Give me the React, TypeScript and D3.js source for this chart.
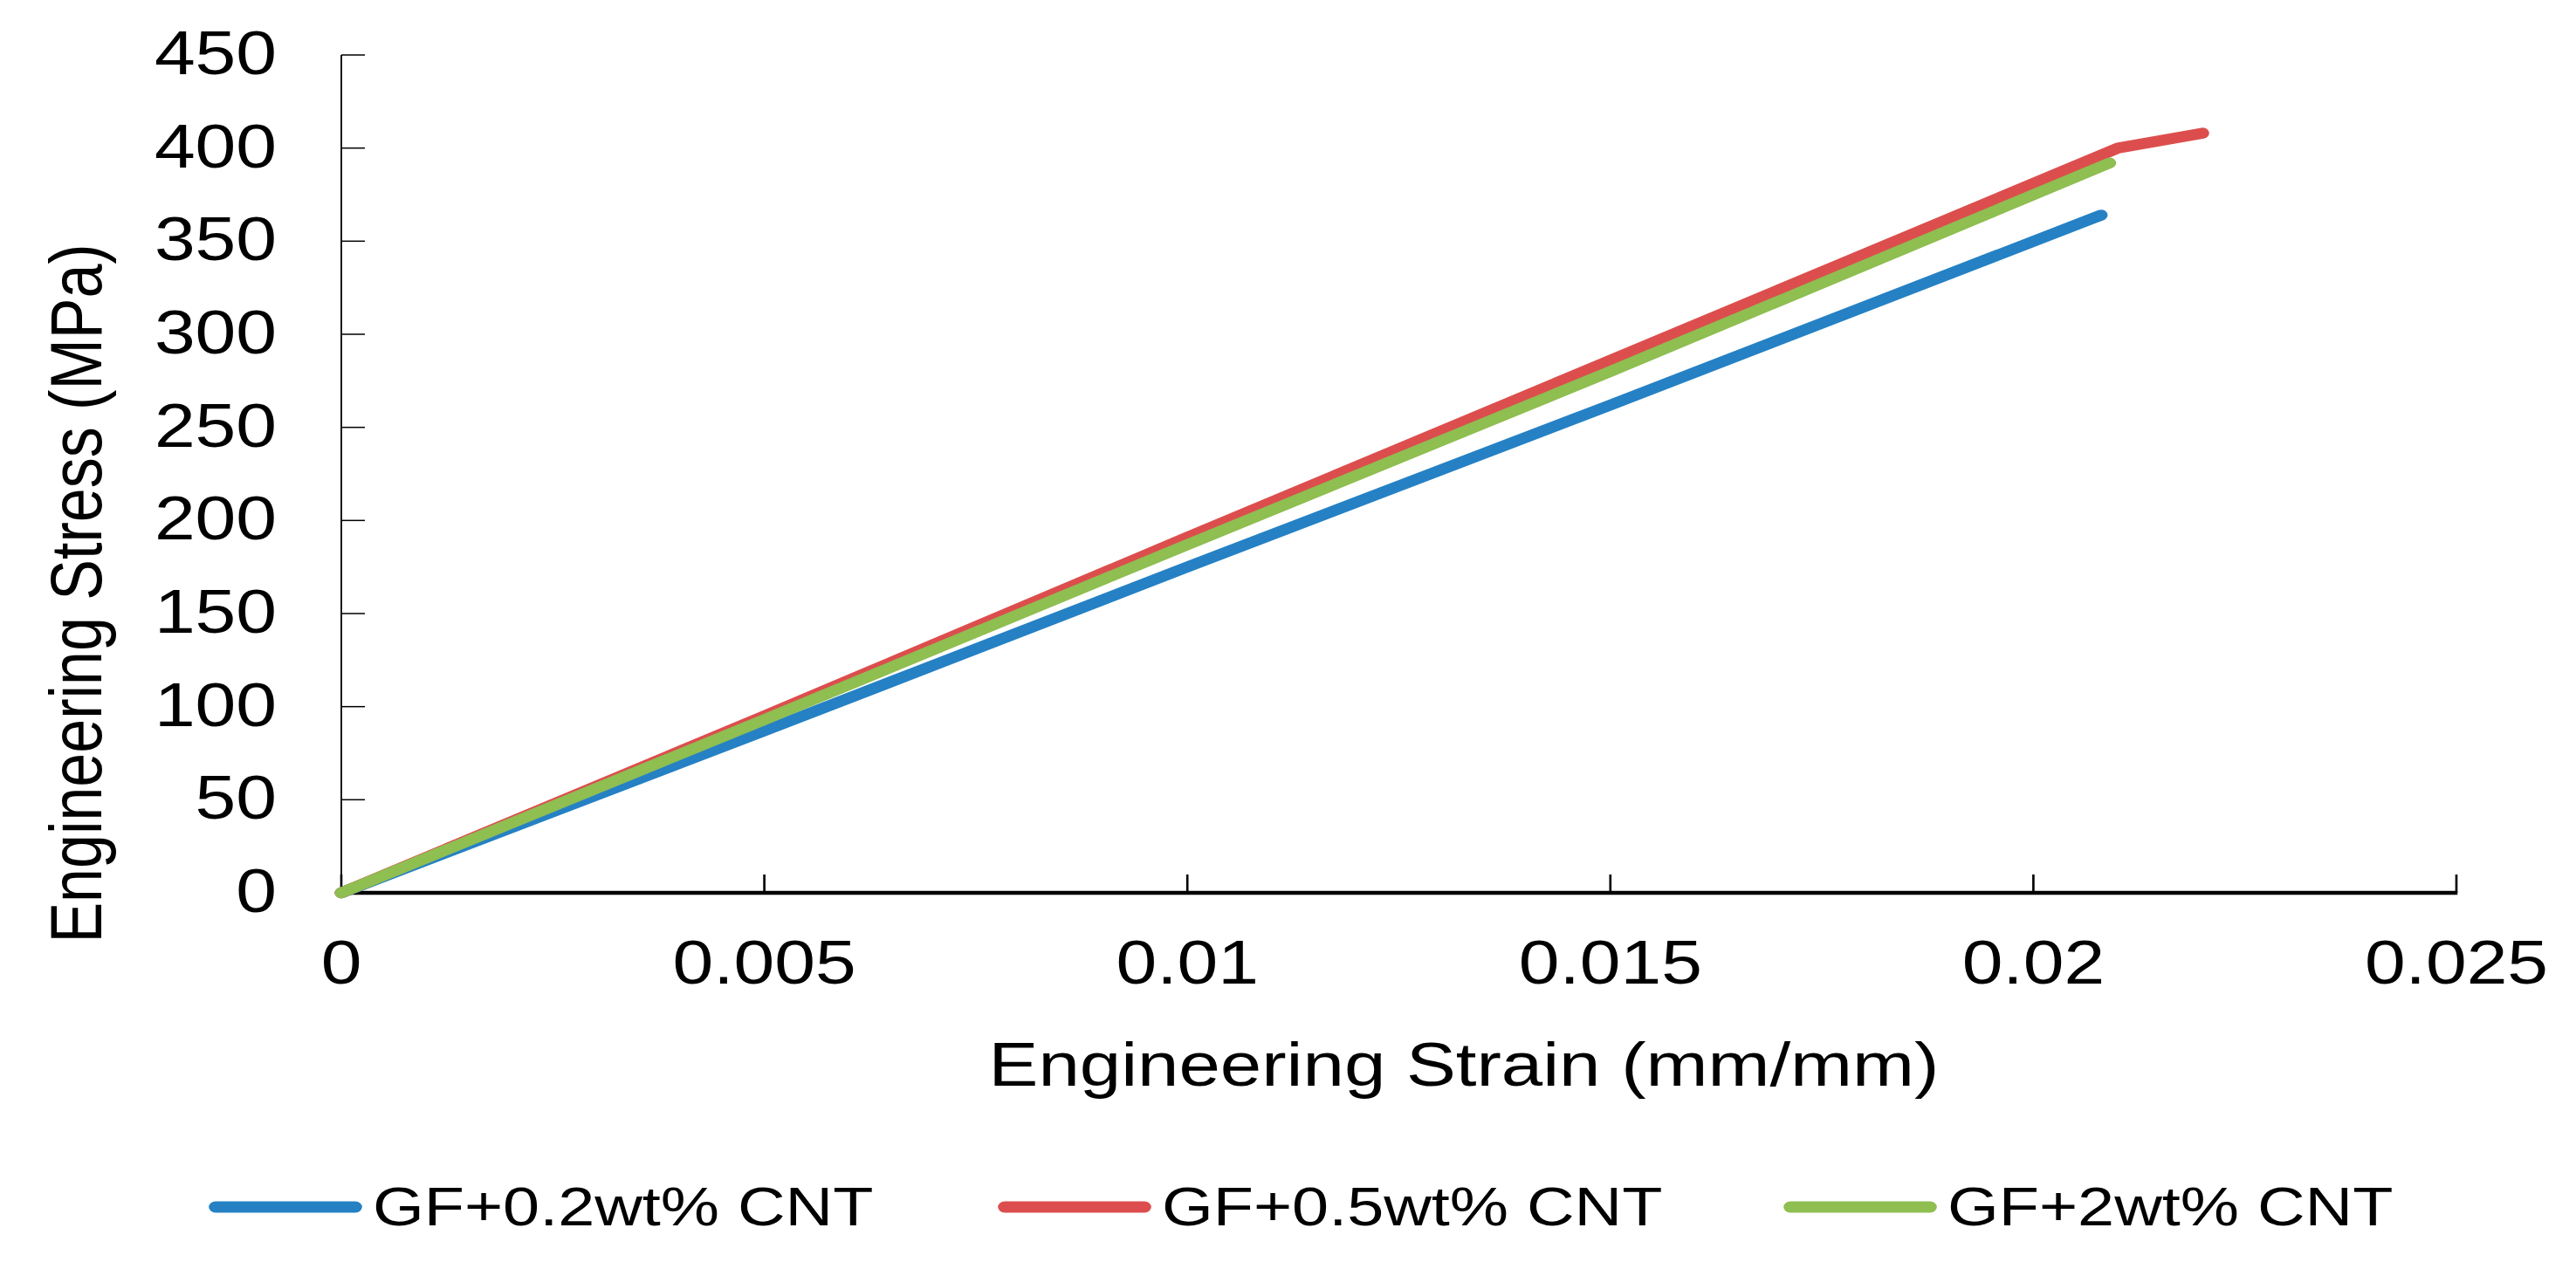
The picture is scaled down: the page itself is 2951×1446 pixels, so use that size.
import { useEffect, useRef } from "react"
import * as d3 from "d3"

const seriesNames = ["GF+0.2wt% CNT", "GF+0.5wt% CNT", "GF+2wt% CNT"]
const seriesColors = ["#2581c4", "#dc4e4d", "#8fbe51"]

const strain02 = [0, 0.005, 0.01, 0.015, 0.0208]
const stress02 = [0, 87, 175, 262, 364]

const strain05 = [0, 0.005, 0.01, 0.015, 0.021, 0.022]
const stress05 = [0, 95, 191, 286, 400, 408]

const strain2 = [0, 0.005, 0.01, 0.015, 0.0209]
const stress2 = [0, 93, 187, 280, 392]

const xTicks = [0, 0.005, 0.01, 0.015, 0.02, 0.025]
const xTickLabels = ["0", "0.005", "0.01", "0.015", "0.02", "0.025"]
const yTicks = [0, 50, 100, 150, 200, 250, 300, 350, 400, 450]

export default function App() {
  const svgRef = useRef<SVGSVGElement>(null)

  useEffect(() => {
    if (!svgRef.current) return
    document.body.style.margin = "0"

    d3.select(svgRef.current).selectAll("*").remove()

    // the reference is stretched horizontally, so everything is drawn in a squeezed frame
    const SX = 1.2
    const font = "Arial, 'Liberation Sans', sans-serif"

    const svg = d3.select(svgRef.current)
    const g = svg.append("g").attr("transform", `scale(${SX},1)`)

    const x = d3.scaleLinear().domain([0, 0.025]).range([391 / SX, 2814 / SX])
    const y = d3.scaleLinear().domain([0, 450]).range([1023, 63])

    // y axis
    g.append("line")
      .attr("x1", x(0))
      .attr("x2", x(0))
      .attr("y1", y(450))
      .attr("y2", y(0))
      .attr("stroke", "#000")
      .attr("stroke-width", 1.5)

    g.selectAll(".ytick")
      .data(yTicks)
      .enter()
      .append("line")
      .attr("x1", x(0))
      .attr("x2", x(0) + 27 / SX)
      .attr("y1", (d) => y(d))
      .attr("y2", (d) => y(d))
      .attr("stroke", "#000")
      .attr("stroke-width", 1.5)

    g.selectAll(".ylabel")
      .data(yTicks)
      .enter()
      .append("text")
      .attr("x", 317 / SX)
      .attr("y", (d) => y(d) + 22)
      .attr("text-anchor", "end")
      .attr("font-family", font)
      .attr("font-size", 70)
      .text((d) => String(d))

    // x axis
    g.selectAll(".xtick")
      .data(xTicks)
      .enter()
      .append("line")
      .attr("x1", (d) => x(d))
      .attr("x2", (d) => x(d))
      .attr("y1", y(0))
      .attr("y2", y(0) - 21)
      .attr("stroke", "#000")
      .attr("stroke-width", 2.2)

    g.append("line")
      .attr("x1", x(0))
      .attr("x2", x(0.025) + 1)
      .attr("y1", y(0))
      .attr("y2", y(0))
      .attr("stroke", "#000")
      .attr("stroke-width", 4.5)

    g.selectAll(".xlabel")
      .data(xTicks)
      .enter()
      .append("text")
      .attr("x", (d) => x(d))
      .attr("y", 1127)
      .attr("text-anchor", "middle")
      .attr("font-family", font)
      .attr("font-size", 70)
      .text((_, i) => xTickLabels[i])

    // axis titles
    g.append("text")
      .attr("x", 1677 / SX)
      .attr("y", 1244)
      .attr("text-anchor", "middle")
      .attr("font-family", font)
      .attr("font-size", 71)
      .text("Engineering Strain (mm/mm)")

    g.append("text")
      .attr("transform", `translate(${116 / SX},680) rotate(-90)`)
      .attr("text-anchor", "middle")
      .attr("font-family", font)
      .attr("font-size", 70)
      .text("Engineering Stress (MPa)")

    // curves
    const series = [
      strain02.map((s, i) => [s, stress02[i]]),
      strain05.map((s, i) => [s, stress05[i]]),
      strain2.map((s, i) => [s, stress2[i]]),
    ]

    const line = d3
      .line<number[]>()
      .x((d) => x(d[0]))
      .y((d) => y(d[1]))

    g.selectAll(".curve")
      .data(series)
      .enter()
      .append("path")
      .attr("d", (d) => line(d))
      .attr("fill", "none")
      .attr("stroke", (_, i) => seriesColors[i])
      .attr("stroke-width", 12.5)
      .attr("stroke-linecap", "round")
      .attr("stroke-linejoin", "round")

    // legend
    const legendX = [247, 1151, 2051]
    const legend = g
      .selectAll(".legend")
      .data(seriesNames)
      .enter()
      .append("g")
      .attr("transform", (_, i) => `translate(${legendX[i] / SX},1383)`)

    legend
      .append("line")
      .attr("x1", 0)
      .attr("x2", 160 / SX)
      .attr("y1", 0)
      .attr("y2", 0)
      .attr("stroke", (_, i) => seriesColors[i])
      .attr("stroke-width", 13)
      .attr("stroke-linecap", "round")

    legend
      .append("text")
      .attr("x", 180 / SX)
      .attr("y", 21)
      .attr("font-family", font)
      .attr("font-size", 63)
      .text((d) => d)
  }, [])

  return (
    <svg ref={svgRef} width={2951} height={1446} style={{ display: "block", background: "#fff" }}></svg>
  )
}
